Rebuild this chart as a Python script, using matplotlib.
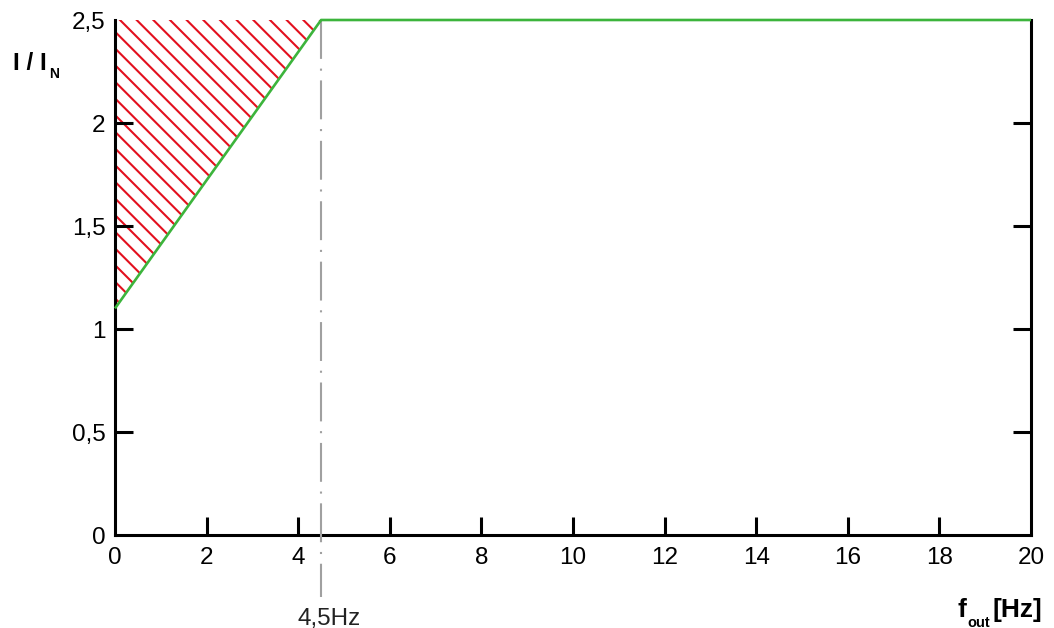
import numpy as np
import matplotlib.pyplot as plt

# characteristic: I/IN limit vs output frequency
f_pts = [0, 4.5, 20]
i_pts = [1.1, 2.5, 2.5]
f_knee = 4.5
x_ticks = [0, 2, 4, 6, 8, 10, 12, 14, 16, 18, 20]
y_ticks = [0, 0.5, 1, 1.5, 2, 2.5]
y_labels = ["0", "0,5", "1", "1,5", "2", "2,5"]

plt.rcParams['font.family'] = ['Liberation Sans', 'DejaVu Sans']
plt.rcParams['hatch.linewidth'] = 1.5
plt.rcParams['lines.scale_dashes'] = False

W, H = 1054, 628
fig = plt.figure(figsize=(W / 100, H / 100), dpi=100)
ax = fig.add_axes([115 / W, 1 - 535 / H, (1031 - 115) / W, (535 - 20) / H])

# hatched forbidden region
fx = np.array([0, f_knee])
ax.fill_between(fx, np.interp(fx, f_pts, i_pts), 2.5, facecolor='none',
                edgecolor='#e3101e', hatch='\\\\', linewidth=0)

ax.plot(f_pts, i_pts, color='#3cb43c', lw=1.9, solid_capstyle='butt',
        clip_on=False, zorder=4)

# dash-dot marker at knee frequency
ax.plot([f_knee, f_knee], [2.5, -0.30], color='#a0a0a0', lw=1.5,
        linestyle=(0, (28, 7, 1.5, 7)), clip_on=False, zorder=3)
fig.text(298 / W, 1 - 625 / H, '4,5Hz', fontsize=17.5, va='baseline',
         ha='left', color='#222222')

ax.set_xlim(0, 20)
ax.set_ylim(0, 2.5)
ax.set_xticks(x_ticks)
ax.set_yticks(y_ticks)
ax.set_yticklabels(y_labels)
ax.tick_params(direction='in', length=13, width=2.2, labelsize=17.5,
               right=True, labelright=False)
ax.tick_params(axis='x', pad=9)
ax.tick_params(axis='y', pad=7)
for t in [ax.xaxis.get_major_ticks()[0], ax.xaxis.get_major_ticks()[-1],
          ax.yaxis.get_major_ticks()[0], ax.yaxis.get_major_ticks()[-1]]:
    t.tick1line.set_visible(False)
    t.tick2line.set_visible(False)

ax.spines['top'].set_visible(False)
for s in ['left', 'bottom', 'right']:
    ax.spines[s].set_linewidth(2.2)

# axis titles
fig.text(13 / W, 1 - 70 / H, 'I / I', fontsize=17.5, fontweight='bold', va='baseline')
fig.text(49 / W, 1 - 78 / H, 'N', fontsize=10, fontweight='bold', va='baseline')
fig.text(957 / W, 1 - 617 / H, 'f', fontsize=19, fontweight='bold', va='baseline')
fig.text(967 / W, 1 - 627 / H, 'out', fontsize=10.5, fontweight='bold', va='baseline')
fig.text(993 / W, 1 - 617 / H, '[Hz]', fontsize=19, fontweight='bold', va='baseline')

fig.savefig('out.png', dpi=100)
